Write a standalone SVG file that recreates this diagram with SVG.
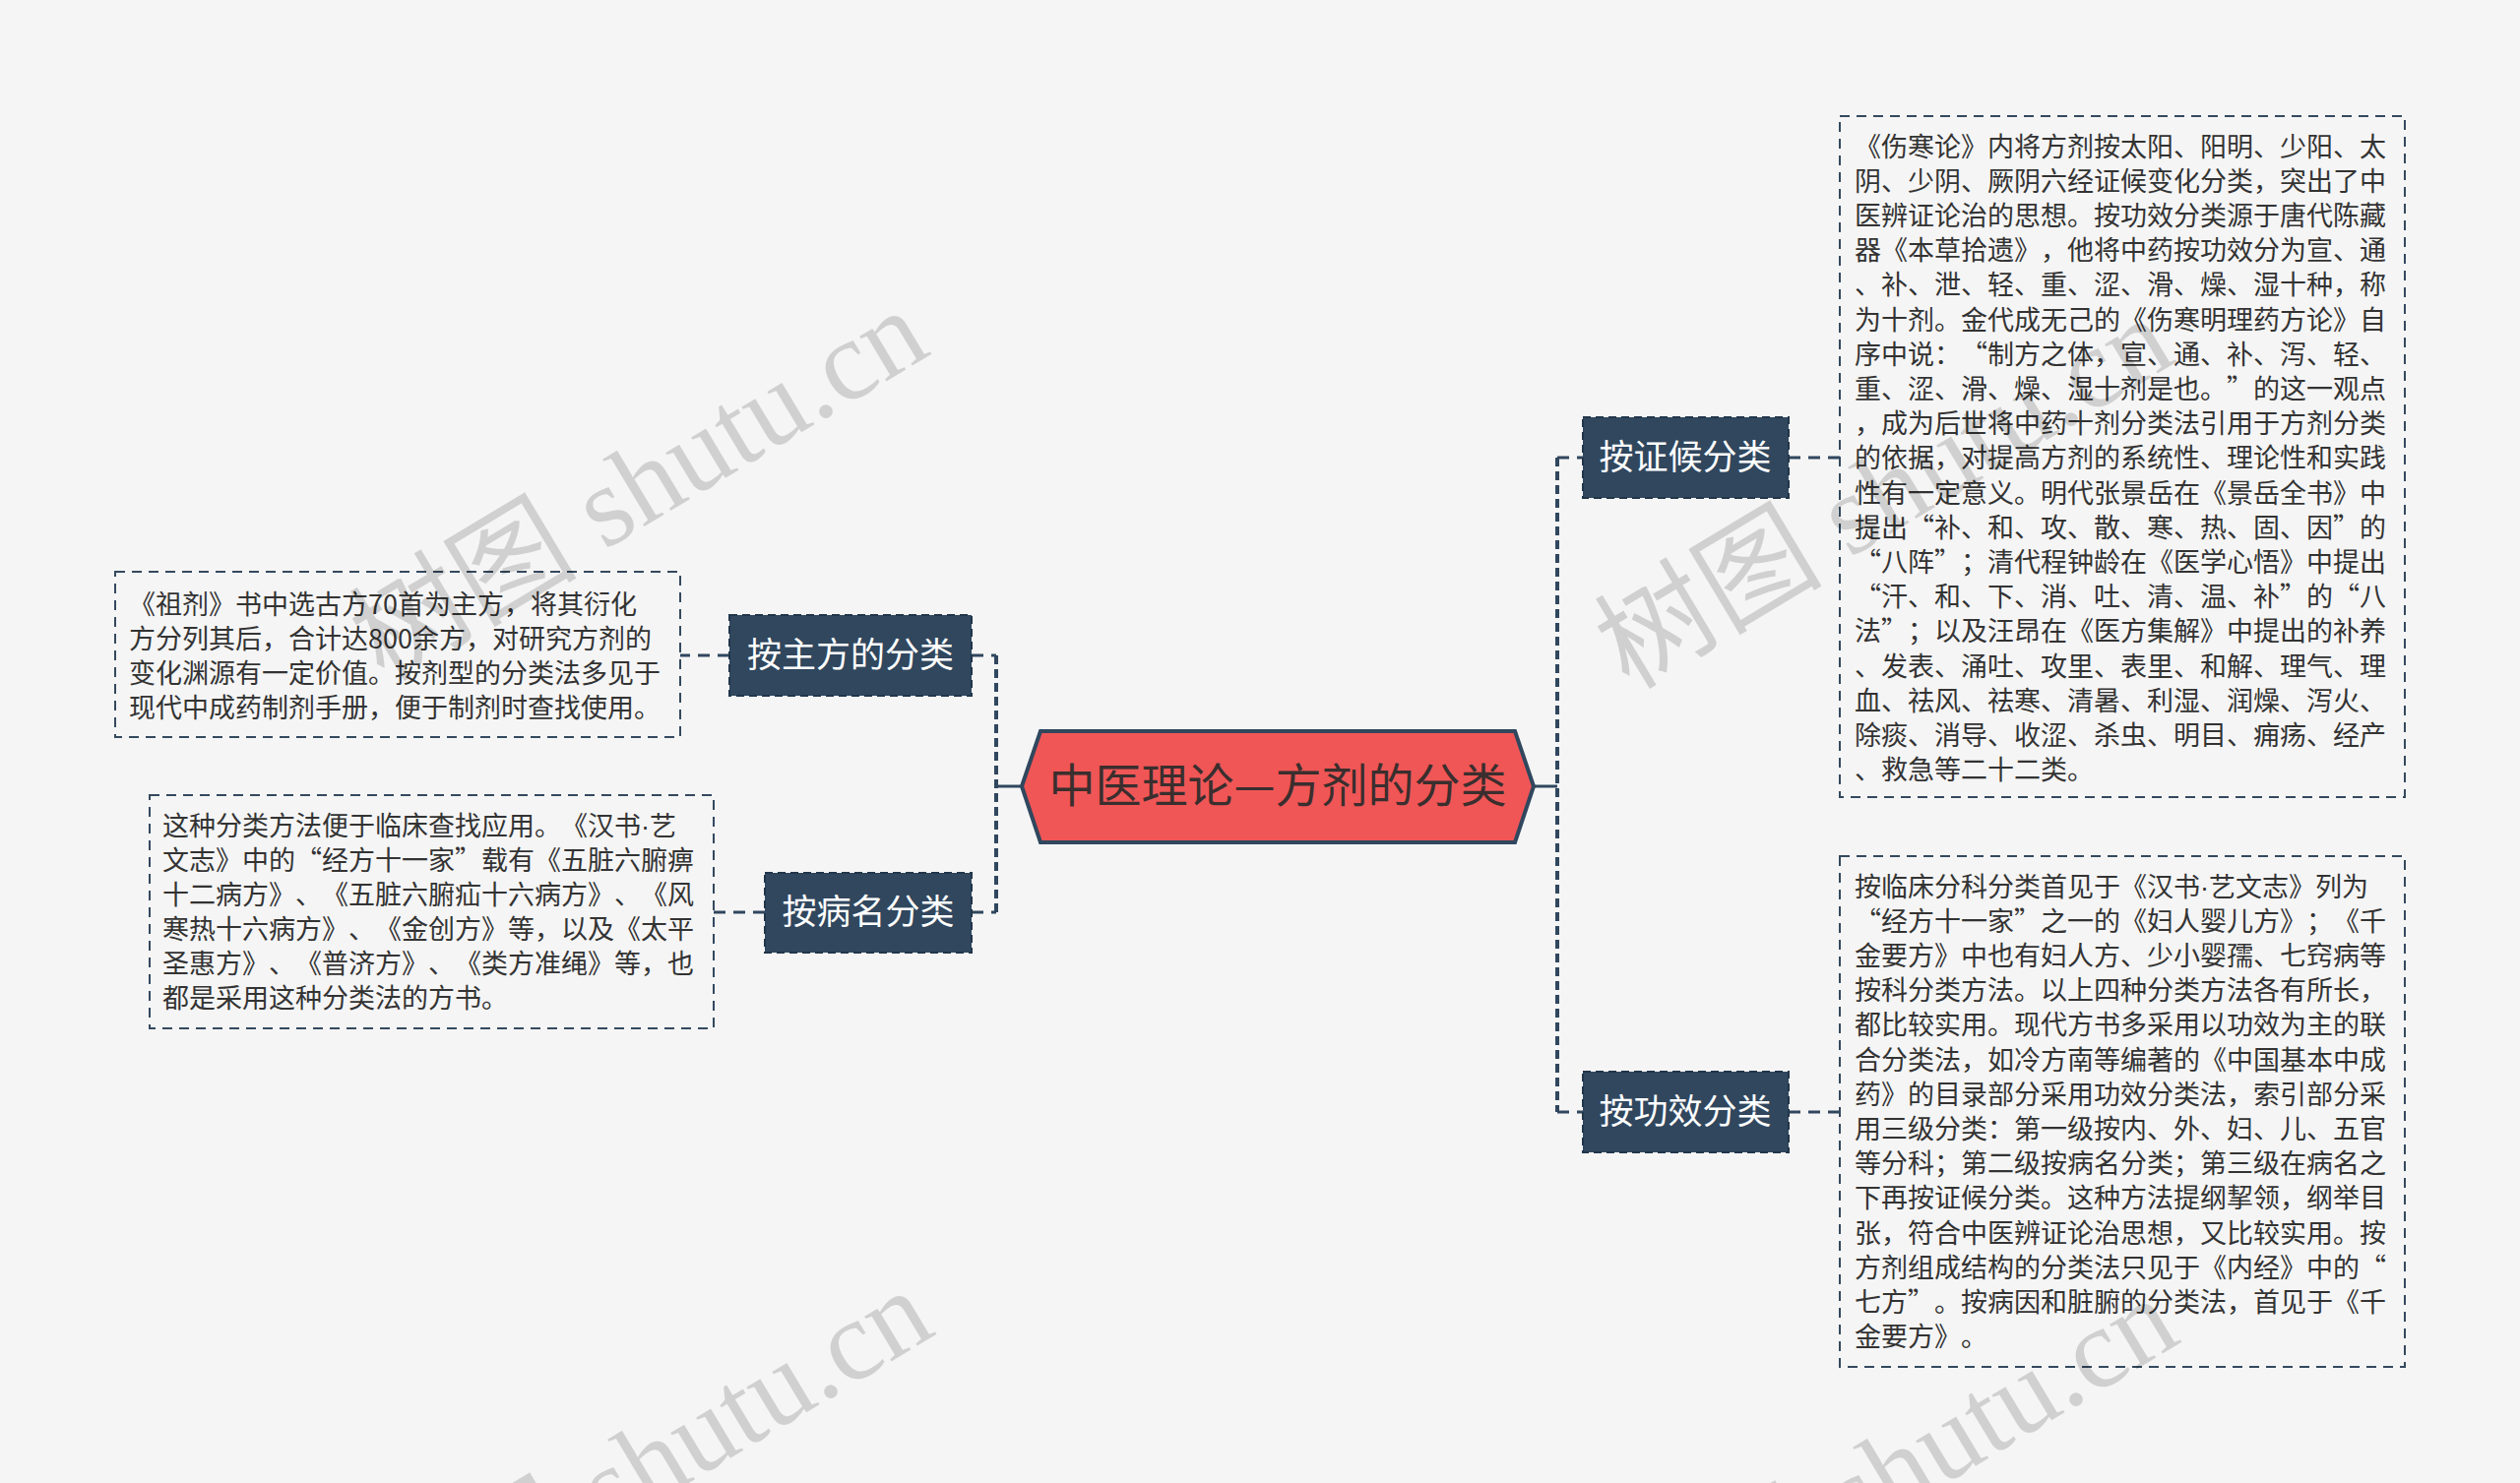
<svg xmlns="http://www.w3.org/2000/svg" width="2560" height="1507" viewBox="0 0 2560 1507">
<style>
.bg{fill:#f5f5f5}
.leaf{fill:#f5f5f5;stroke:#34495e;stroke-width:2;stroke-dasharray:10 7}
.lt{font-family:"Noto Sans CJK SC","Noto Sans",sans-serif;font-size:27px;fill:#333333;text-spacing-trim:space-all}
.dot{font-family:"Liberation Sans",sans-serif}
.br{fill:#30475e;stroke:#22364a;stroke-width:2;stroke-dasharray:8 5}
.bt{font-family:"Noto Sans CJK SC","Noto Sans",sans-serif;font-size:35px;fill:#ffffff;text-anchor:middle}
.ct{font-family:"Noto Sans CJK SC","Noto Sans",sans-serif;font-size:47px;fill:#3a2e2e;text-anchor:middle}
.cn{fill:none;stroke:#30475e;stroke-width:3;stroke-dasharray:12 8}
.vn{fill:none;stroke:#30475e;stroke-width:4;stroke-dasharray:9 5}
.sn{fill:none;stroke:#30475e;stroke-width:3}
.wm{font-family:"Liberation Serif","Noto Sans CJK SC",serif;font-size:116px;fill:#000000;fill-opacity:0.15}
</style>
<rect class="bg" x="0" y="0" width="2560" height="1507"/>

<g id="connectors">
<path class="sn" d="M1038 799 H1012"/>
<path class="vn" d="M1012 666 V927"/>
<path class="cn" d="M987 666 H1012"/>
<path class="cn" d="M987 927 H1012"/>
<path class="sn" d="M1558 799 H1582"/>
<path class="vn" d="M1582 465 V1130"/>
<path class="cn" d="M1582 465 H1608"/>
<path class="cn" d="M1582 1130 H1608"/>
<path class="cn" d="M1817 465 H1869"/>
<path class="cn" d="M1817 1130 H1869"/>
<path class="cn" d="M741 666 H691"/>
<path class="cn" d="M777 927 H725"/>
</g>

<g id="center">
<polygon points="1038,799 1057,743 1539,743 1558,799 1539,856 1057,856" fill="#f05656" stroke="#30475e" stroke-width="4"/>
<text class="ct" x="1298" y="815">中医理论—方剂的分类</text>
</g>

<g id="b-zhufang">
<rect class="br" x="741" y="625" width="246" height="82"/>
<text class="bt" x="864" y="678">按主方的分类</text>
</g>
<g id="b-bingming">
<rect class="br" x="777" y="887" width="210" height="81"/>
<text class="bt" x="882" y="939">按病名分类</text>
</g>
<g id="b-zhenghou">
<rect class="br" x="1608" y="424" width="209" height="82"/>
<text class="bt" x="1712" y="477">按证候分类</text>
</g>
<g id="b-gongxiao">
<rect class="br" x="1608" y="1089" width="209" height="82"/>
<text class="bt" x="1712" y="1142">按功效分类</text>
</g>

<g id="leaf-zhufang">
<rect class="leaf" x="117" y="581" width="574" height="168"/>
<text class="lt" x="131" y="623.5">
<tspan x="131" dy="0">《祖剂》书中选古方70首为主方，将其衍化</tspan>
<tspan x="131" dy="35">方分列其后，合计达800余方，对研究方剂的</tspan>
<tspan x="131" dy="35">变化渊源有一定价值。按剂型的分类法多见于</tspan>
<tspan x="131" dy="35">现代中成药制剂手册，便于制剂时查找使用。</tspan>
</text>
</g>

<g id="leaf-bingming">
<rect class="leaf" x="152" y="808" width="573" height="237"/>
<text class="lt" x="165" y="848.5">
<tspan x="165" dy="0">这种分类方法便于临床查找应用。《汉书<tspan class="dot">·</tspan>艺</tspan>
<tspan x="165" dy="35.1">文志》中的“经方十一家”载有《五脏六腑痹</tspan>
<tspan x="165" dy="35.1">十二病方》、《五脏六腑疝十六病方》、《风</tspan>
<tspan x="165" dy="35.1">寒热十六病方》、《金创方》等，以及《太平</tspan>
<tspan x="165" dy="35.1">圣惠方》、《普济方》、《类方准绳》等，也</tspan>
<tspan x="165" dy="35.1">都是采用这种分类法的方书。</tspan>
</text>
</g>

<g id="leaf-zhenghou">
<rect class="leaf" x="1869" y="118" width="574" height="692"/>
<text class="lt" x="1884" y="158.5">
<tspan x="1884" dy="0">《伤寒论》内将方剂按太阳、阳明、少阳、太</tspan>
<tspan x="1884" dy="35.2">阴、少阴、厥阴六经证候变化分类，突出了中</tspan>
<tspan x="1884" dy="35.2">医辨证论治的思想。按功效分类源于唐代陈藏</tspan>
<tspan x="1884" dy="35.2">器《本草拾遗》，他将中药按功效分为宣、通</tspan>
<tspan x="1884" dy="35.2">、补、泄、轻、重、涩、滑、燥、湿十种，称</tspan>
<tspan x="1884" dy="35.2">为十剂。金代成无己的《伤寒明理药方论》自</tspan>
<tspan x="1884" dy="35.2">序中说：“制方之体，宣、通、补、泻、轻、</tspan>
<tspan x="1884" dy="35.2">重、涩、滑、燥、湿十剂是也。”的这一观点</tspan>
<tspan x="1884" dy="35.2">，成为后世将中药十剂分类法引用于方剂分类</tspan>
<tspan x="1884" dy="35.2">的依据，对提高方剂的系统性、理论性和实践</tspan>
<tspan x="1884" dy="35.2">性有一定意义。明代张景岳在《景岳全书》中</tspan>
<tspan x="1884" dy="35.2">提出“补、和、攻、散、寒、热、固、因”的</tspan>
<tspan x="1884" dy="35.2">“八阵”；清代程钟龄在《医学心悟》中提出</tspan>
<tspan x="1884" dy="35.2">“汗、和、下、消、吐、清、温、补”的“八</tspan>
<tspan x="1884" dy="35.2">法”；以及汪昂在《医方集解》中提出的补养</tspan>
<tspan x="1884" dy="35.2">、发表、涌吐、攻里、表里、和解、理气、理</tspan>
<tspan x="1884" dy="35.2">血、祛风、祛寒、清暑、利湿、润燥、泻火、</tspan>
<tspan x="1884" dy="35.2">除痰、消导、收涩、杀虫、明目、痈疡、经产</tspan>
<tspan x="1884" dy="35.2">、救急等二十二类。</tspan>
</text>
</g>

<g id="leaf-gongxiao">
<rect class="leaf" x="1869" y="870" width="574" height="519"/>
<text class="lt" x="1884" y="910.5">
<tspan x="1884" dy="0">按临床分科分类首见于《汉书<tspan class="dot">·</tspan>艺文志》列为</tspan>
<tspan x="1884" dy="35.2">“经方十一家”之一的《妇人婴儿方》；《千</tspan>
<tspan x="1884" dy="35.2">金要方》中也有妇人方、少小婴孺、七窍病等</tspan>
<tspan x="1884" dy="35.2">按科分类方法。以上四种分类方法各有所长，</tspan>
<tspan x="1884" dy="35.2">都比较实用。现代方书多采用以功效为主的联</tspan>
<tspan x="1884" dy="35.2">合分类法，如冷方南等编著的《中国基本中成</tspan>
<tspan x="1884" dy="35.2">药》的目录部分采用功效分类法，索引部分采</tspan>
<tspan x="1884" dy="35.2">用三级分类：第一级按内、外、妇、儿、五官</tspan>
<tspan x="1884" dy="35.2">等分科；第二级按病名分类；第三级在病名之</tspan>
<tspan x="1884" dy="35.2">下再按证候分类。这种方法提纲挈领，纲举目</tspan>
<tspan x="1884" dy="35.2">张，符合中医辨证论治思想，又比较实用。按</tspan>
<tspan x="1884" dy="35.2">方剂组成结构的分类法只见于《内经》中的“</tspan>
<tspan x="1884" dy="35.2">七方”。按病因和脏腑的分类法，首见于《千</tspan>
<tspan x="1884" dy="35.2">金要方》。</tspan>
</text>
</g>

<g id="watermarks">
<text class="wm" transform="translate(390,694) rotate(-31)">树图 shutu.cn</text>
<text class="wm" transform="translate(1655,702) rotate(-31)">树图 shutu.cn</text>
<text class="wm" transform="translate(395,1690) rotate(-31)">树图 shutu.cn</text>
<text class="wm" transform="translate(1660,1698) rotate(-31)">树图 shutu.cn</text>
</g>
</svg>
